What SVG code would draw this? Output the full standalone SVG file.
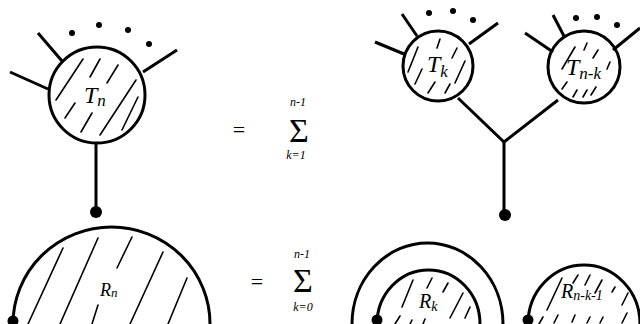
<svg xmlns="http://www.w3.org/2000/svg" width="640" height="324" viewBox="0 0 640 324">
<style>
.s{fill:none;stroke:#000;stroke-width:3;stroke-linecap:butt}
.h{fill:none;stroke:#000;stroke-width:1.6;stroke-linecap:round}
.d{fill:#000}
.t{font-family:"Liberation Serif",serif;font-style:italic;fill:#000}
.m{font-family:"Liberation Serif",serif;fill:#000}
</style>
<rect width="640" height="324" fill="#fff"/>
<g id="connectors">
<line class="s" x1="38" y1="33" x2="62" y2="61"/>
<line class="s" x1="10" y1="72" x2="48" y2="89"/>
<line class="s" x1="143" y1="72" x2="177" y2="50"/>
<line class="s" x1="96" y1="143" x2="96" y2="210"/>
<line class="s" x1="402" y1="14" x2="417" y2="36"/>
<line class="s" x1="375" y1="42" x2="404" y2="54"/>
<line class="s" x1="469" y1="44" x2="498" y2="23"/>
<line class="s" x1="553" y1="15" x2="565" y2="38"/>
<line class="s" x1="525" y1="33" x2="553" y2="52"/>
<line class="s" x1="613" y1="50" x2="640" y2="28"/>
<polyline class="s" points="458,98 504,142 558,100"/>
<line class="s" x1="504" y1="142" x2="504" y2="213"/>
</g>
<g id="dots">
<circle class="d" cx="72" cy="33" r="3"/>
<circle class="d" cx="99" cy="25" r="3"/>
<circle class="d" cx="128" cy="30" r="3"/>
<circle class="d" cx="149" cy="44" r="3"/>
<circle class="d" cx="429" cy="13" r="3"/>
<circle class="d" cx="453" cy="11" r="3"/>
<circle class="d" cx="473" cy="20" r="3"/>
<circle class="d" cx="576" cy="18" r="3"/>
<circle class="d" cx="597" cy="17" r="3"/>
<circle class="d" cx="617" cy="25" r="3"/>
</g>
<g id="Tn">
<circle class="s" cx="97" cy="95" r="48"/>
<g class="h">
<line x1="83" y1="59" x2="56" y2="100"/>
<line x1="100" y1="59" x2="90" y2="77"/>
<line x1="118" y1="65" x2="107" y2="83"/>
<line x1="136" y1="80" x2="100" y2="135"/>
<line x1="75" y1="103" x2="65" y2="118"/>
<line x1="92" y1="113" x2="81" y2="132"/>
<line x1="138" y1="97" x2="122" y2="130"/>
</g>
<text class="t" x="84" y="103" font-size="24">T<tspan font-size="17" dy="3">n</tspan></text>
</g>
<g id="Tk">
<circle class="s" cx="438" cy="66" r="35"/>
<g class="h">
<line x1="418" y1="47" x2="408" y2="72"/>
<line x1="440" y1="39" x2="437" y2="48"/>
<line x1="457" y1="48" x2="452" y2="58"/>
<line x1="465" y1="61" x2="455" y2="83"/>
<line x1="422" y1="69" x2="415" y2="84"/>
<line x1="435" y1="82" x2="428" y2="93"/>
<line x1="450" y1="84" x2="445" y2="93"/>
</g>
<text class="t" x="427" y="72" font-size="24">T<tspan font-size="17" dy="5">k</tspan></text>
</g>
<g id="Tnk">
<circle class="s" cx="584" cy="67" r="36"/>
<g class="h">
<line x1="575" y1="47" x2="562" y2="69"/>
<line x1="587" y1="43" x2="584" y2="50"/>
<line x1="598" y1="50" x2="593" y2="58"/>
<line x1="610" y1="62" x2="607" y2="69"/>
<line x1="567" y1="82" x2="562" y2="89"/>
<line x1="577" y1="90" x2="573" y2="97"/>
<line x1="587" y1="90" x2="583" y2="97"/>
<line x1="596" y1="87" x2="591" y2="95"/>
</g>
<text class="t" x="566" y="75" font-size="24">T<tspan font-size="17" dy="4">n-k</tspan></text>
</g>
<g id="sum1">
<text class="m" x="239" y="137" font-size="22" text-anchor="middle">=</text>
<text class="m" x="299" y="142" font-size="34" text-anchor="middle">Σ</text>
<text class="t" x="298" y="106" font-size="12" text-anchor="middle">n-1</text>
<text class="t" x="296" y="159" font-size="12" text-anchor="middle">k=1</text>
</g>
<circle class="d" cx="96" cy="212" r="6"/>
<circle class="d" cx="505" cy="215" r="6"/>
<g id="Rn">
<path class="s" d="M13 324 A98.5 97 0 0 1 210 324"/>
<g class="h">
<line x1="63" y1="248" x2="28" y2="324"/>
<line x1="98" y1="238" x2="60" y2="324"/>
<line x1="132" y1="237" x2="117" y2="268"/>
<line x1="163" y1="252" x2="130" y2="324"/>
<line x1="187" y1="278" x2="168" y2="324"/>
<line x1="98" y1="305" x2="92" y2="324"/>
</g>
<circle class="d" cx="13" cy="321" r="5.5"/>
<text class="t" x="100" y="296" font-size="18">R<tspan font-size="13" dy="1">n</tspan></text>
</g>
<g id="sum2">
<text class="m" x="257" y="289" font-size="22" text-anchor="middle">=</text>
<text class="m" x="303" y="292" font-size="34" text-anchor="middle">Σ</text>
<text class="t" x="302" y="258" font-size="12" text-anchor="middle">n-1</text>
<text class="t" x="303" y="311" font-size="12" text-anchor="middle">k=0</text>
</g>
<g id="Rk">
<path class="s" d="M352 324 A75.5 81 0 0 1 503 324"/>
<path class="s" d="M377 324 A51.5 54 0 0 1 480 324"/>
<g class="h">
<line x1="413" y1="280" x2="402" y2="307"/>
<line x1="432" y1="278" x2="427" y2="288"/>
<line x1="448" y1="283" x2="443" y2="292"/>
<line x1="463" y1="293" x2="450" y2="318"/>
<line x1="470" y1="307" x2="465" y2="318"/>
<line x1="400" y1="316" x2="395" y2="324"/>
<line x1="412" y1="320" x2="410" y2="324"/>
<line x1="425" y1="319" x2="423" y2="324"/>
</g>
<circle class="d" cx="377" cy="320" r="5.5"/>
<text class="t" x="419" y="308" font-size="20">R<tspan font-size="14" dy="3">k</tspan></text>
</g>
<g id="Rnk1">
<path class="s" d="M528 324 A56 59 0 0 1 640 324"/>
<g class="h">
<line x1="562" y1="278" x2="547" y2="310"/>
<line x1="578" y1="275" x2="573" y2="283"/>
<line x1="590" y1="275" x2="585" y2="285"/>
<line x1="602" y1="280" x2="595" y2="293"/>
<line x1="615" y1="287" x2="612" y2="292"/>
<line x1="628" y1="293" x2="622" y2="305"/>
<line x1="543" y1="317" x2="539" y2="324"/>
<line x1="558" y1="315" x2="554" y2="323"/>
<line x1="575" y1="315" x2="572" y2="322"/>
<line x1="590" y1="317" x2="587" y2="323"/>
<line x1="603" y1="317" x2="600" y2="323"/>
<line x1="627" y1="313" x2="622" y2="323"/>
</g>
<circle class="d" cx="528" cy="320" r="5.5"/>
<text class="t" x="561" y="298" font-size="20">R<tspan font-size="14" dy="2">n-k-1</tspan></text>
</g>
</svg>
